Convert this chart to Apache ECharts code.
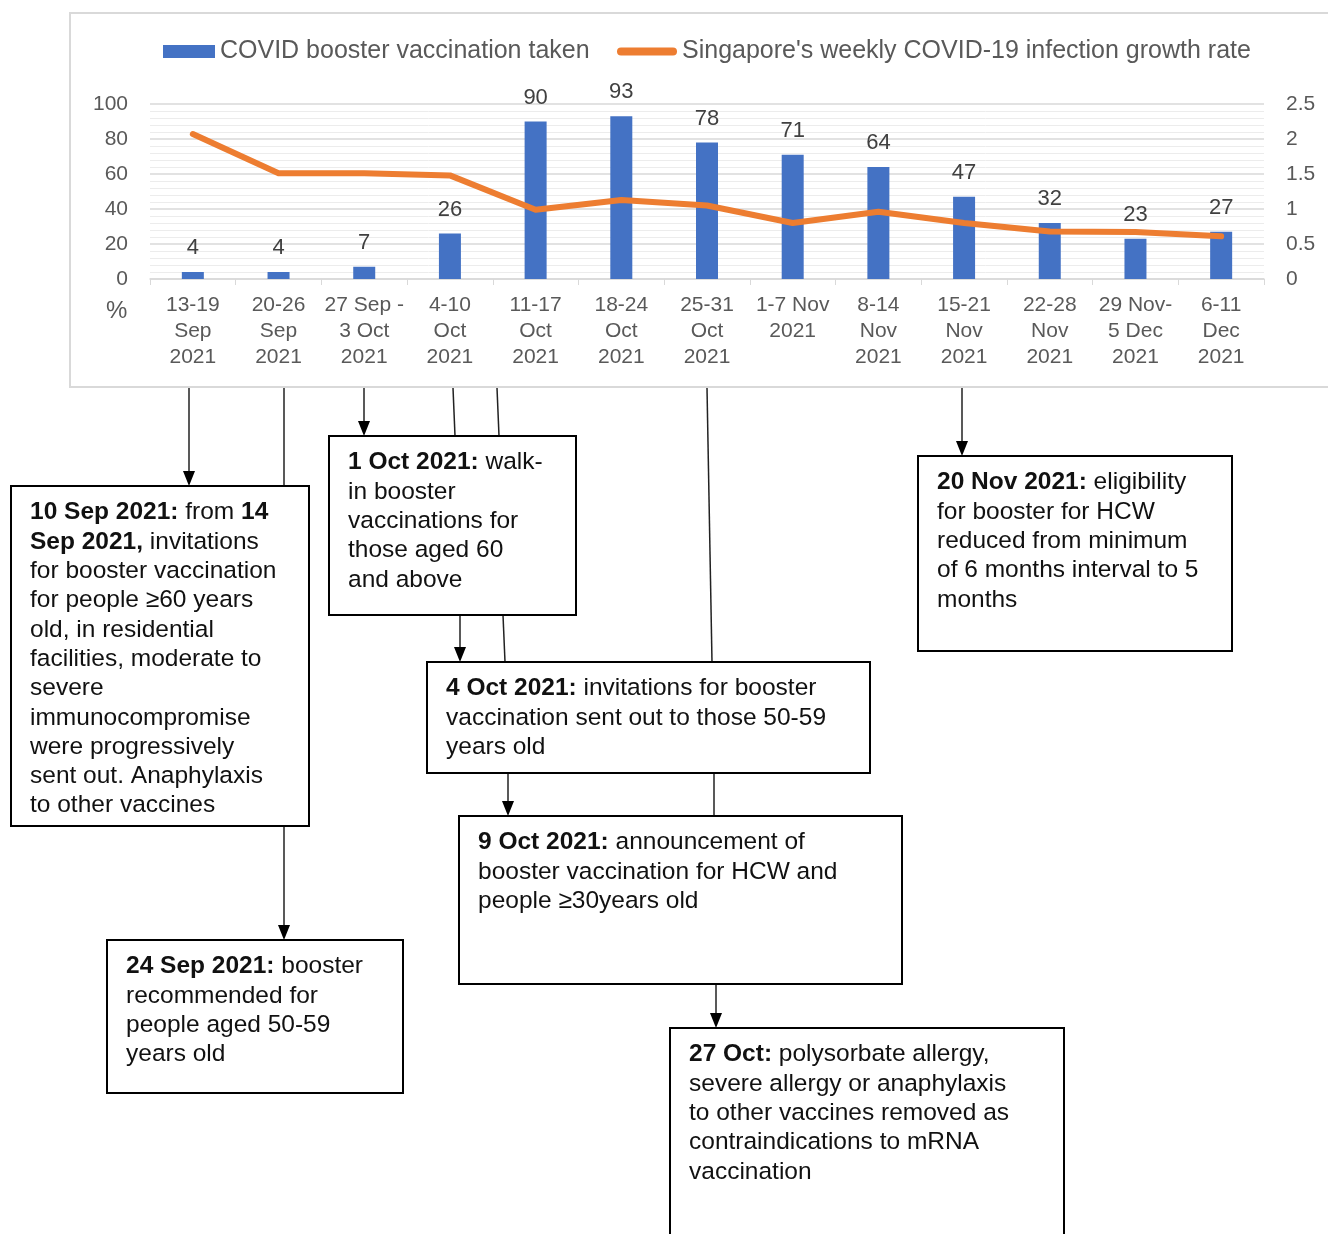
<!DOCTYPE html>
<html>
<head>
<meta charset="utf-8">
<script src="https://cdn.jsdelivr.net/npm/echarts@6/dist/echarts.min.js"></script>
<style>
  html, body { margin: 0; padding: 0; background: #fff; }
  #chart { width: 1328px; height: 1234px; }
</style>
</head>
<body>
<div id="chart"></div>
<script>
// weeks on the x axis
const weeks = [
  '13-19\nSep\n2021', '20-26\nSep\n2021', '27 Sep -\n3 Oct\n2021', '4-10\nOct\n2021',
  '11-17\nOct\n2021', '18-24\nOct\n2021', '25-31\nOct\n2021', '1-7 Nov\n2021',
  '8-14\nNov\n2021', '15-21\nNov\n2021', '22-28\nNov\n2021', '29 Nov-\n5 Dec\n2021',
  '6-11\nDec\n2021'
];
// % booster vaccination taken
const boosterTaken = [4, 4, 7, 26, 90, 93, 78, 71, 64, 47, 32, 23, 27];
// weekly infection growth rate
const growthRate = [2.07, 1.51, 1.51, 1.48, 0.99, 1.13, 1.05, 0.80, 0.96, 0.80, 0.68, 0.67, 0.61];

const FONT = '"Liberation Sans", Arial, sans-serif';
const BLUE = '#4472c4';
const ORANGE = '#ed7d31';
const BAR_NAME = 'COVID booster vaccination taken';
const LINE_NAME = "Singapore's weekly COVID-19 infection growth rate";

// annotation boxes below the chart
const notes = [
  { x: 11, y: 486, w: 298, h: 340,
    text: '{b|10 Sep 2021:} from {b|14}\n{b|Sep 2021,} invitations\nfor booster vaccination\nfor people \u226560 years\nold, in residential\nfacilities, moderate to\nsevere\nimmunocompromise\nwere progressively\nsent out. Anaphylaxis\nto other vaccines' },
  { x: 107, y: 940, w: 296, h: 153,
    text: '{b|24 Sep 2021:} booster\nrecommended for\npeople aged 50-59\nyears old' },
  { x: 329, y: 436, w: 247, h: 179,
    text: '{b|1 Oct 2021:} walk-\nin booster\nvaccinations for\nthose aged 60\nand above' },
  { x: 427, y: 662, w: 443, h: 111,
    text: '{b|4 Oct 2021:} invitations for booster\nvaccination sent out to those 50-59\nyears old' },
  { x: 459, y: 816, w: 443, h: 168,
    text: '{b|9 Oct 2021:} announcement of\nbooster vaccination for HCW and\npeople \u226530years old' },
  { x: 670, y: 1028, w: 394, h: 220,
    text: '{b|27 Oct:} polysorbate allergy,\nsevere allergy or anaphylaxis\nto other vaccines removed as\ncontraindications to mRNA\nvaccination' },
  { x: 918, y: 456, w: 314, h: 195,
    text: '{b|20 Nov 2021:} eligibility\nfor booster for HCW\nreduced from minimum\nof 6 months interval to 5\nmonths' }
];

// connectors: x1, y1, x2, y2, arrow
const links = [
  [189, 388, 189, 486, true],
  [284, 388, 284, 486, false],
  [284, 826, 284, 940, true],
  [364, 388, 364, 436, true],
  [453, 388, 455, 436, false],
  [497, 388, 499, 436, false],
  [460, 615, 460, 662, true],
  [503, 615, 505, 662, false],
  [707, 388, 712, 662, false],
  [714, 773, 714, 816, false],
  [508, 773, 508, 816, true],
  [716, 984, 716, 1028, true],
  [962, 388, 962, 456, true]
];

const graphics = [
  {
    type: 'rect', silent: true, z: -1,
    shape: { x: 70, y: 13, width: 1300, height: 374 },
    style: { fill: 'none', stroke: '#d9d9d9', lineWidth: 2 }
  }
];

links.forEach(([x1, y1, x2, y2, arrow]) => {
  graphics.push({
    type: 'line', silent: true,
    shape: { x1, y1, x2: x2, y2: arrow ? y2 - 12 : y2 },
    style: { stroke: '#222', lineWidth: 1.5 }
  });
  if (arrow) {
    graphics.push({
      type: 'polygon', silent: true,
      shape: { points: [[x2 - 6, y2 - 15], [x2 + 6, y2 - 15], [x2, y2]] },
      style: { fill: '#000' }
    });
  }
});

notes.forEach(n => {
  graphics.push({
    type: 'rect', silent: true,
    shape: { x: n.x, y: n.y, width: n.w, height: n.h },
    style: { fill: '#fff', stroke: '#000', lineWidth: 2 }
  });
  graphics.push({
    type: 'text', silent: true,
    x: n.x + 19, y: n.y + 12,
    style: {
      text: n.text,
      fontFamily: FONT, fontSize: 24.5, lineHeight: 29.3,
      fill: '#111', verticalAlign: 'top',
      rich: {
        b: { fontFamily: FONT, fontSize: 24.5, fontWeight: 'bold', lineHeight: 29.3, fill: '#111' }
      }
    }
  });
});

graphics.push({
  type: 'text', silent: true, x: 106, y: 299,
  style: { text: '%', fontFamily: FONT, fontSize: 24, fill: '#595959' }
});

const legendText = { fontSize: 25, color: '#595959', fontFamily: FONT };

const chart = echarts.init(document.getElementById('chart'));
chart.setOption({
  animation: false,
  backgroundColor: '#fff',
  textStyle: { fontFamily: FONT },
  legend: [
    {
      left: 163, top: 39, padding: 0,
      itemWidth: 52, itemHeight: 13,
      textStyle: legendText,
      data: [{ name: BAR_NAME, icon: 'rect' }]
    },
    {
      left: 617, top: 39, padding: 0,
      itemWidth: 60, itemHeight: 8,
      textStyle: legendText,
      data: [{ name: LINE_NAME, icon: 'path://M4,0 H56 A4,4 0 0 1 56,8 H4 A4,4 0 0 1 4,0 Z' }]
    }
  ],
  grid: { left: 150, right: 64, top: 104, bottom: 955 },
  xAxis: {
    type: 'category',
    data: weeks,
    axisLine: { lineStyle: { color: '#d9d9d9', width: 1.5 } },
    axisTick: { show: true, length: 6, lineStyle: { color: '#d9d9d9' } },
    axisLabel: { fontSize: 21, lineHeight: 26, color: '#595959', margin: 13, interval: 0 }
  },
  yAxis: [
    {
      type: 'value', min: 0, max: 100, interval: 20,
      axisLine: { show: false }, axisTick: { show: false },
      axisLabel: { fontSize: 21, color: '#595959', margin: 22 },
      splitLine: { lineStyle: { color: '#d9d9d9', width: 1.5 } },
      minorTick: { show: false, splitNumber: 5 },
      minorSplitLine: { show: true, lineStyle: { color: '#ececec', width: 1 } }
    },
    {
      type: 'value', min: 0, max: 2.5, interval: 0.5,
      axisLine: { show: false }, axisTick: { show: false },
      splitLine: { show: false },
      axisLabel: { fontSize: 21, color: '#595959', margin: 22 }
    }
  ],
  series: [
    {
      name: BAR_NAME,
      type: 'bar',
      data: boosterTaken,
      barWidth: 22,
      itemStyle: { color: BLUE },
      label: { show: true, position: 'top', distance: 13, fontSize: 22, color: '#404040' }
    },
    {
      name: LINE_NAME,
      type: 'line',
      yAxisIndex: 1,
      data: growthRate,
      symbol: 'none',
      lineStyle: { color: ORANGE, width: 6, cap: 'round', join: 'round' },
      itemStyle: { color: ORANGE }
    }
  ],
  graphic: graphics
});
</script>
</body>
</html>
